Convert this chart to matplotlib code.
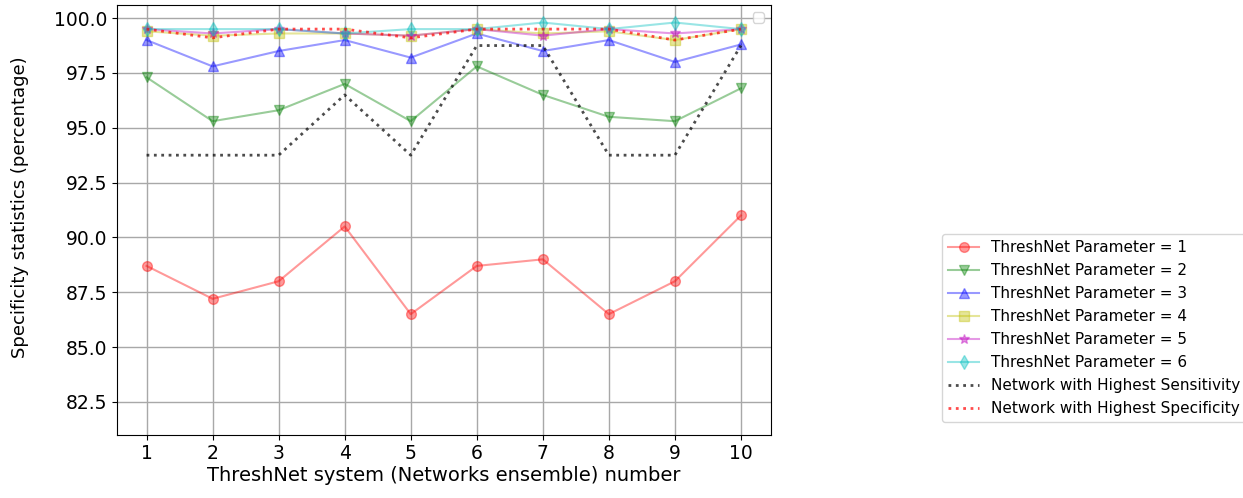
import numpy as np
import matplotlib
matplotlib.use("Agg")
import matplotlib.pyplot as plt

systems = np.arange(1, 11)

# specificity (%) per ensemble, one list per ThreshNet parameter
spec_p1 = [88.7, 87.2, 88.0, 90.5, 86.5, 88.7, 89.0, 86.5, 88.0, 91.0]
spec_p2 = [97.3, 95.3, 95.8, 97.0, 95.3, 97.8, 96.5, 95.5, 95.3, 96.8]
spec_p3 = [99.0, 97.8, 98.5, 99.0, 98.2, 99.3, 98.5, 99.0, 98.0, 98.8]
spec_p4 = [99.4, 99.2, 99.3, 99.3, 99.2, 99.5, 99.3, 99.4, 99.0, 99.5]
spec_p5 = [99.5, 99.3, 99.5, 99.3, 99.2, 99.5, 99.2, 99.5, 99.3, 99.5]
spec_p6 = [99.5, 99.5, 99.5, 99.3, 99.5, 99.5, 99.8, 99.5, 99.8, 99.5]
best_sens = [93.75, 93.75, 93.75, 96.5, 93.75, 98.75, 98.75, 93.75, 93.75, 98.75]
best_spec = [99.5, 99.1, 99.5, 99.5, 99.1, 99.5, 99.5, 99.5, 99.0, 99.5]

series = [spec_p1, spec_p2, spec_p3, spec_p4, spec_p5, spec_p6]
colors = ['r', 'g', 'b', 'y', 'm', 'c']
markers = ['o', 'v', '^', 's', '*', 'd']

fig = plt.figure(figsize=(12.43, 4.98), dpi=100)
ax = fig.add_axes([0.094, 0.127, 0.526, 0.863])

lines = []
for i, vals in enumerate(series):
    l, = ax.plot(systems, vals, color=colors[i], marker=markers[i], alpha=0.4,
                 markersize=7, label="ThreshNet Parameter = %d" % (i + 1))
    lines.append(l)
l, = ax.plot(systems, best_sens, 'k:', lw=2, alpha=0.7,
             label="Network with Highest Sensitivity")
lines.append(l)
l, = ax.plot(systems, best_spec, 'r:', lw=2, alpha=0.7,
             label="Network with Highest Specificity")
lines.append(l)

ax.set_ylim(81.0, 100.6)
ax.set_xticks(systems)
ax.set_yticks(np.arange(82.5, 100.1, 2.5))
ax.tick_params(labelsize=13.5)
ax.grid(True, color='#a8a8a8', lw=1)
ax.set_xlabel("ThreshNet system (Networks ensemble) number", fontsize=14, labelpad=2)
ax.set_ylabel("Specificity statistics (percentage)", fontsize=13, labelpad=14)
ax.yaxis.set_label_coords(-0.135, 0.53)

# empty legend left in the corner
ax.legend([], [], loc='upper right')
fig.legend(handles=lines, loc='center left', bbox_to_anchor=(0.752, 0.341),
           fontsize=11, labelspacing=0.52, handlelength=2.0)

fig.savefig("out.png", dpi=100)
